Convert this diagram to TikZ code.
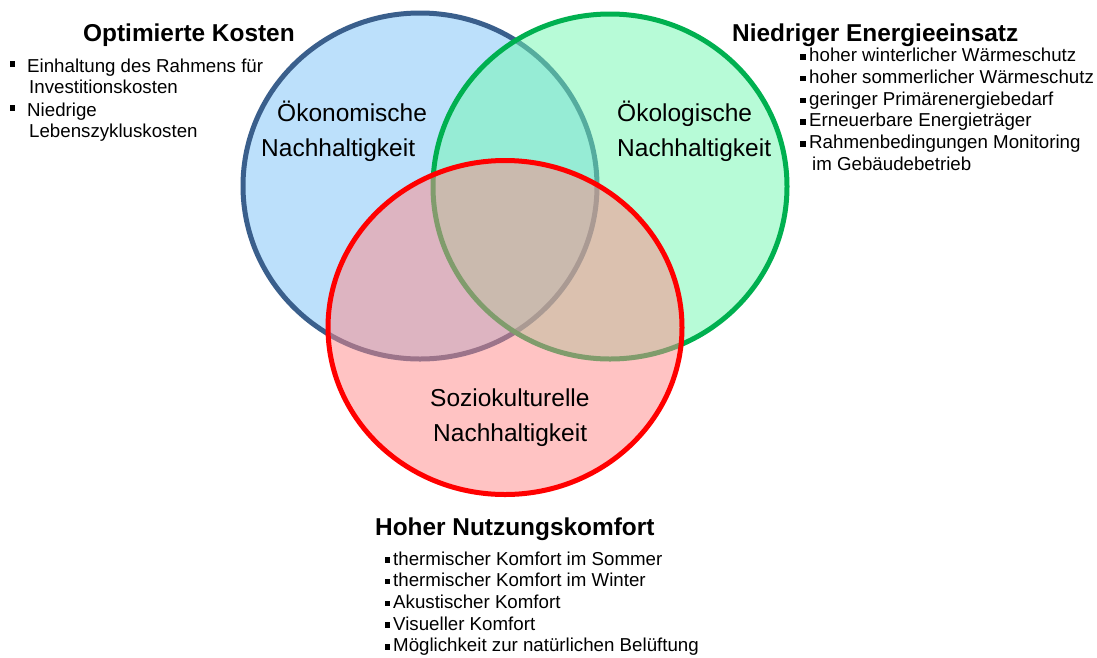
\documentclass[tikz,border=0pt]{standalone}
\usepackage{fontspec}
\setmainfont{Liberation Sans}
\definecolor{econfill}{RGB}{123,195,249}
\definecolor{econline}{RGB}{58,95,140}
\definecolor{ecofill}{RGB}{113,249,177}
\definecolor{ecoline}{RGB}{0,176,80}
\definecolor{socfill}{RGB}{255,137,137}
\definecolor{socline}{RGB}{255,0,0}
\begin{document}
\begin{tikzpicture}[x=1pt,y=-1pt,
  venn/.style={line width=5pt, fill opacity=0.5, draw opacity=1},
  head/.style={anchor=base west, inner sep=0pt, font=\fontsize{24.4}{28}\selectfont\bfseries},
  item/.style={anchor=base west, inner sep=0pt, font=\fontsize{18.7}{22}\selectfont},
  lbl/.style={anchor=base west, inner sep=0pt, font=\fontsize{24.5}{30}\selectfont},
  sq/.style={fill=black, inner sep=0pt, minimum size=5.5pt}]
\useasboundingbox (0,0) rectangle (1097,657);
\fill[white] (0,0) rectangle (1097,657);

% the three overlapping circles
\path[venn, fill=econfill, draw=econline] (420,186) ellipse [x radius=177pt, y radius=173pt];
\path[venn, fill=ecofill, draw=ecoline] (610,186.5) ellipse [x radius=177pt, y radius=172.5pt];
\path[venn, fill=socfill, draw=socline] (505,327.5) ellipse [x radius=177pt, y radius=167pt];

% circle labels
\node[lbl] (econ1) at (277,121) {Ökonomische};
\node[lbl] (econ2) at (261,156) {Nachhaltigkeit};
\node[lbl] (eco1) at (617,121) {Ökologische};
\node[lbl] (eco2) at (617,156) {Nachhaltigkeit};
\node[lbl] (soc1) at (430,406) {Soziokulturelle};
\node[lbl] (soc2) at (433,441) {Nachhaltigkeit};

% cost block
\node[head] (costT) at (83,41) {Optimierte Kosten};
\node[sq] (cb1) at (12.5,64) {};
\node[item] (c1) at (27,72.5) {Einhaltung des Rahmens für};
\node[item] (c1b) at (29,93) {Investitionskosten};
\node[sq] (cb2) at (12.5,108) {};
\node[item] (c2) at (27,116) {Niedrige};
\node[item] (c2b) at (29,137) {Lebenszykluskosten};

% energy block
\node[head] (enT) at (732,41) {Niedriger Energieeinsatz};
\foreach \t [count=\i] in {hoher winterlicher Wärmeschutz, hoher sommerlicher Wärmeschutz, geringer Primärenergiebedarf, Erneuerbare Energieträger, Rahmenbedingungen Monitoring}{
  \node[sq] (eb\i) at (803,61.7+21.7*\i-21.7-4.7) {};
  \node[item] (e\i) at (809,61.7+21.7*\i-21.7) {\t};
}
\node[item] (e5b) at (812,170) {im Gebäudebetrieb};

% comfort block
\node[head] (coT) at (375,535.5) {Hoher Nutzungskomfort};
\foreach \t [count=\i] in {thermischer Komfort im Sommer, thermischer Komfort im Winter, Akustischer Komfort, Visueller Komfort, Möglichkeit zur natürlichen Belüftung}{
  \node[sq] (kb\i) at (387.5,565+21.7*\i-21.7-5) {};
  \node[item] (k\i) at (393,565+21.7*\i-21.7) {\t};
}
\end{tikzpicture}
\end{document}
